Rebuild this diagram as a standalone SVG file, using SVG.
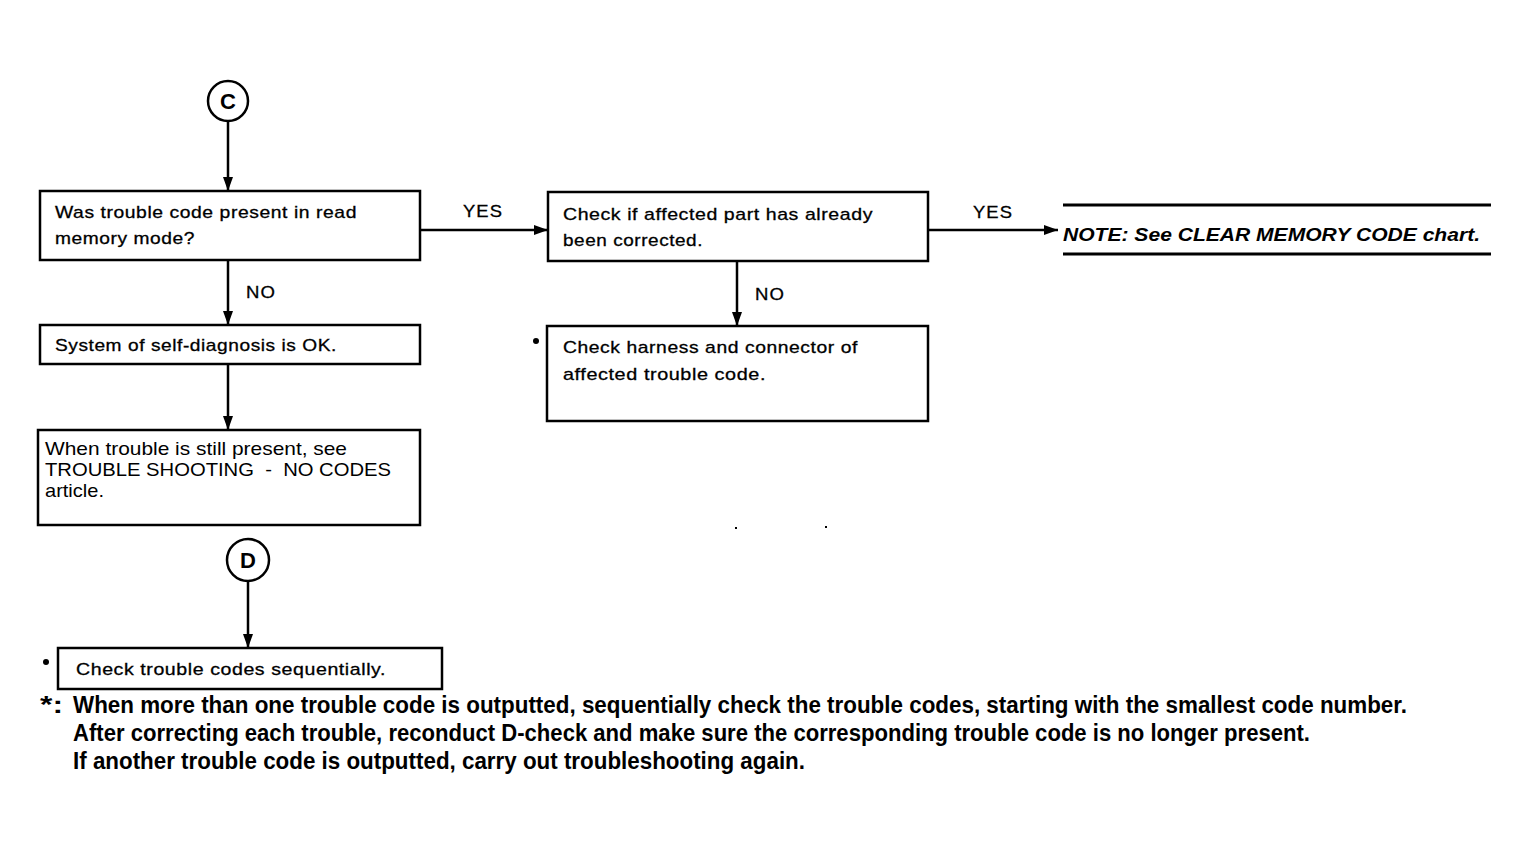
<svg xmlns="http://www.w3.org/2000/svg" width="1529" height="850" viewBox="0 0 1529 850">
<style>
.box{fill:#fff;stroke:#000;stroke-width:2.5}
.t{font-family:"Liberation Sans",Arial,sans-serif;font-size:17px;fill:#000;stroke:#000;stroke-width:0.3;letter-spacing:0.5px}
.h{font-family:"Liberation Sans",Arial,sans-serif;font-size:19px;fill:#000;white-space:pre}
.lbl{font-family:"Liberation Sans",Arial,sans-serif;font-size:17px;fill:#000;stroke:#000;stroke-width:0.3;letter-spacing:1px}
.fn{font-family:"Liberation Sans",Arial,sans-serif;font-size:23px;font-weight:bold;fill:#000}
.note{font-family:"Liberation Sans",Arial,sans-serif;font-size:19px;font-weight:bold;font-style:italic;fill:#000}
.conn{stroke:#000;stroke-width:2.5;fill:none}
.circ{fill:#fff;stroke:#000;stroke-width:2.5}
.ct{font-family:"Liberation Sans",Arial,sans-serif;font-size:22px;font-weight:bold;fill:#000}
</style>
<defs>
<marker id="ah" viewBox="0 0 14 10" refX="14" refY="5" markerWidth="14" markerHeight="10" markerUnits="userSpaceOnUse" orient="auto">
<path d="M0,0 L14,5 L0,10 Z" fill="#000"/>
</marker>
</defs>
<rect width="1529" height="850" fill="#fff"/>

<g id="connectors">
<line class="conn" x1="228" y1="121" x2="228" y2="191" marker-end="url(#ah)"/>
<line class="conn" x1="420" y1="230" x2="548" y2="230" marker-end="url(#ah)"/>
<line class="conn" x1="928" y1="230" x2="1058" y2="230" marker-end="url(#ah)"/>
<line class="conn" x1="228" y1="260" x2="228" y2="325" marker-end="url(#ah)"/>
<line class="conn" x1="737" y1="261" x2="737" y2="326" marker-end="url(#ah)"/>
<line class="conn" x1="228" y1="364" x2="228" y2="430" marker-end="url(#ah)"/>
<line class="conn" x1="248" y1="581" x2="248" y2="648" marker-end="url(#ah)"/>
<text class="lbl" x="463" y="217" textLength="40" lengthAdjust="spacingAndGlyphs">YES</text>
<text class="lbl" x="973" y="218" textLength="40" lengthAdjust="spacingAndGlyphs">YES</text>
<text class="lbl" x="246" y="298" textLength="30" lengthAdjust="spacingAndGlyphs">NO</text>
<text class="lbl" x="755" y="300" textLength="30" lengthAdjust="spacingAndGlyphs">NO</text>
</g>

<g id="nodeC">
<circle class="circ" cx="228" cy="101" r="20"/>
<text class="ct" x="228" y="109" text-anchor="middle">C</text>
</g>

<g id="q1">
<rect class="box" x="40" y="191" width="380" height="69"/>
<text class="t" x="55" y="218" textLength="302" lengthAdjust="spacingAndGlyphs">Was trouble code present in read</text>
<text class="t" x="55" y="244" textLength="140" lengthAdjust="spacingAndGlyphs">memory mode?</text>
</g>

<g id="q2">
<rect class="box" x="548" y="192" width="380" height="69"/>
<text class="t" x="563" y="220" textLength="310" lengthAdjust="spacingAndGlyphs">Check if affected part has already</text>
<text class="t" x="563" y="246" textLength="140" lengthAdjust="spacingAndGlyphs">been corrected.</text>
</g>

<g id="note">
<line x1="1063" y1="205" x2="1491" y2="205" stroke="#000" stroke-width="3"/>
<line x1="1063" y1="254" x2="1491" y2="254" stroke="#000" stroke-width="3"/>
<text class="note" x="1063" y="241" textLength="417" lengthAdjust="spacingAndGlyphs">NOTE: See CLEAR MEMORY CODE chart.</text>
</g>

<g id="ok">
<rect class="box" x="40" y="325" width="380" height="39"/>
<text class="t" x="55" y="351" textLength="282" lengthAdjust="spacingAndGlyphs">System of self-diagnosis is OK.</text>
</g>

<g id="harness">
<rect class="box" x="547" y="326" width="381" height="95"/>
<circle cx="536" cy="341" r="3" fill="#000"/>
<text class="t" x="563" y="353" textLength="295" lengthAdjust="spacingAndGlyphs">Check harness and connector of</text>
<text class="t" x="563" y="380" textLength="203" lengthAdjust="spacingAndGlyphs">affected trouble code.</text>
</g>

<g id="still">
<rect class="box" x="38" y="430" width="382" height="95"/>
<text class="h" x="45" y="455" textLength="302" lengthAdjust="spacingAndGlyphs">When trouble is still present, see</text>
<text class="h" x="45" y="476" textLength="346" lengthAdjust="spacingAndGlyphs" xml:space="preserve">TROUBLE SHOOTING  -  NO CODES</text>
<text class="h" x="45" y="497" textLength="59" lengthAdjust="spacingAndGlyphs">article.</text>
</g>

<g id="nodeD">
<circle class="circ" cx="248" cy="560" r="21"/>
<text class="ct" x="248" y="568" text-anchor="middle">D</text>
</g>

<g id="seq">
<rect class="box" x="58" y="648" width="384" height="41"/>
<circle cx="46" cy="662" r="3" fill="#000"/>
<text class="t" x="76" y="675" textLength="310" lengthAdjust="spacingAndGlyphs">Check trouble codes sequentially.</text>
</g>

<g id="footnote">
<text class="fn" x="40" y="713" textLength="23" lengthAdjust="spacingAndGlyphs">*:</text>
<text class="fn" x="73" y="713" textLength="1334" lengthAdjust="spacingAndGlyphs">When more than one trouble code is outputted, sequentially check the trouble codes, starting with the smallest code number.</text>
<text class="fn" x="73" y="741" textLength="1237" lengthAdjust="spacingAndGlyphs">After correcting each trouble, reconduct D-check and make sure the corresponding trouble code is no longer present.</text>
<text class="fn" x="73" y="769" textLength="732" lengthAdjust="spacingAndGlyphs">If another trouble code is outputted, carry out troubleshooting again.</text>
</g>

<rect x="735" y="527" width="2" height="2" fill="#000"/>
<rect x="825" y="526" width="2" height="2" fill="#000"/>
</svg>
